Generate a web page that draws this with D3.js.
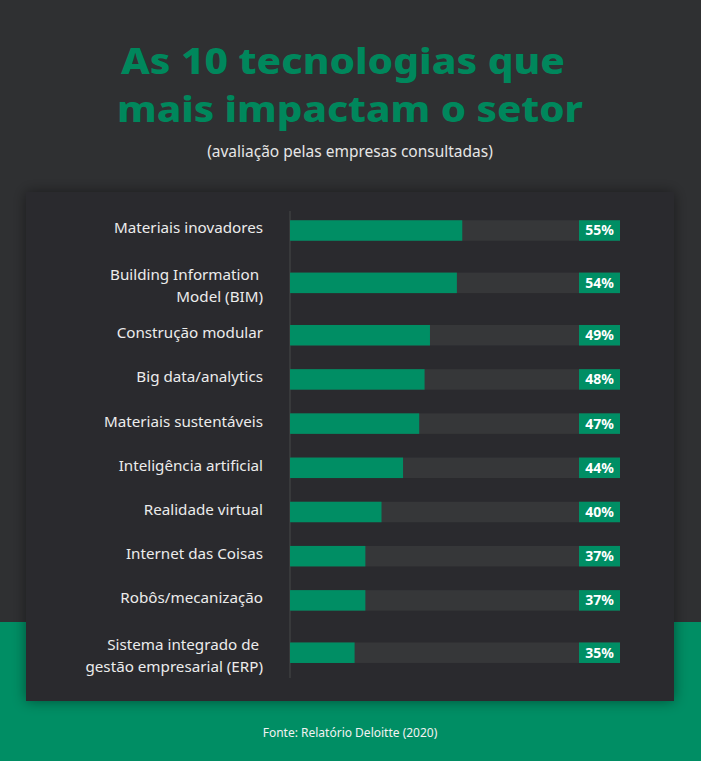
<!DOCTYPE html>
<html><head><meta charset="utf-8">
<script src="https://cdn.jsdelivr.net/npm/d3@7/dist/d3.min.js"></script>
<style>html,body{margin:0;padding:0;background:#2f3032;overflow:hidden} svg{display:block}</style>
</head><body>
<svg id="chart" width="701" height="761"></svg>
<script>
// ---- data ----
const titleLines = ["As 10 tecnologias que", "mais impactam o setor"];
const subtitle = "(avaliação pelas empresas consultadas)";
const source = "Fonte: Relatório Deloitte (2020)";
const categories = [
  "Materiais inovadores",
  "Building Information |Model (BIM)",
  "Construção modular",
  "Big data/analytics",
  "Materiais sustentáveis",
  "Inteligência artificial",
  "Realidade virtual",
  "Internet das Coisas",
  "Robôs/mecanização",
  "Sistema integrado de |gestão empresarial (ERP)"
];
const values = [55, 54, 49, 48, 47, 44, 40, 37, 37, 35];
const valueLabels = ["55%", "54%", "49%", "48%", "47%", "44%", "40%", "37%", "37%", "35%"];

// ---- drawing ----
const W = 701, H = 761;
const FONT = "'Noto Sans', 'Open Sans', sans-serif";
const green = "#008e64", track = "#363739", panel = "#2b2c2e", bg = "#2f3032";
const svg = d3.select("#chart");

const defs = svg.append("defs");
const f = defs.append("filter").attr("id", "sh").attr("x", "-10%").attr("y", "-10%").attr("width", "120%").attr("height", "120%");
f.append("feDropShadow").attr("dx", 0).attr("dy", 0).attr("stdDeviation", 7).attr("flood-color", "#000").attr("flood-opacity", 0.45);

svg.append("rect").attr("width", W).attr("height", H).attr("fill", bg);
svg.append("rect").attr("x", 0).attr("y", 622).attr("width", W).attr("height", H - 622).attr("fill", green);

// title
const titleWidths = [444, 466];
svg.append("g").selectAll("text").data(titleLines).join("text")
  .attr("x", (d, i) => i === 0 ? 343 : 350).attr("y", (d, i) => 74 + i * 47.5)
  .attr("text-anchor", "middle")
  .attr("font-family", FONT).attr("font-weight", 800).attr("font-size", 36)
  .attr("textLength", (d, i) => titleWidths[i]).attr("lengthAdjust", "spacingAndGlyphs")
  .attr("fill", "#00875c").text(d => d);

svg.append("text").attr("x", 350).attr("y", 157).attr("text-anchor", "middle")
  .attr("font-family", FONT).attr("font-size", 15.5).attr("fill", "#e6e6e6").text(subtitle);

// panel
svg.append("rect").attr("x", 26).attr("y", 192).attr("width", 648).attr("height", 509)
  .attr("fill", panel).attr("filter", "url(#sh)");

// layout scales
const lines = categories.map(c => c.split("|"));
const weights = lines.map(l => l.length > 1 ? 1.37 : 1);
const cum = [];
weights.reduce((a, w, i) => { cum[i] = a + w / 2; return a + w; }, 0);
const totalW = d3.sum(weights);
const y = d3.scaleLinear().domain([0, totalW]).range([208.4, 208.4 + totalW * 44.19]);
const x = d3.scaleLinear().domain([23, 84.3]).range([290, 620]);
const barH = 20.5;

// axis line
svg.append("line").attr("x1", x(23)).attr("x2", x(23)).attr("y1", 211).attr("y2", 678)
  .attr("stroke", "#38393b").attr("stroke-width", 2);

const rows = svg.append("g").selectAll("g").data(values).join("g")
  .attr("transform", (d, i) => `translate(0,${y(cum[i])})`);

rows.append("rect").attr("x", x(23)).attr("y", -barH / 2)
  .attr("width", x.range()[1] - x(23)).attr("height", barH).attr("fill", track);
rows.append("rect").attr("x", x(23)).attr("y", -barH / 2)
  .attr("width", d => x(d) - x(23)).attr("height", barH).attr("fill", green);
rows.append("rect").attr("x", x.range()[1] - 41).attr("y", -barH / 2)
  .attr("width", 41).attr("height", barH).attr("fill", green);
rows.append("text").attr("x", x.range()[1] - 20.5).attr("y", 5)
  .attr("text-anchor", "middle").attr("font-family", FONT).attr("font-weight", 700)
  .attr("font-size", 14).attr("fill", "#fff").text((d, i) => valueLabels[i]);

rows.append("text").attr("x", 263).attr("text-anchor", "end")
  .attr("font-family", FONT).attr("font-size", 15.2).attr("fill", "#ececec")
  .style("white-space", "pre")
  .each(function (d, i) {
    const l = lines[i];
    const t = d3.select(this);
    const y0 = l.length > 1 ? -3 : 3;
    l.forEach((s, j) => t.append("tspan").attr("x", 263).attr("y", y0 + j * 22.5).text(s));
  });

svg.append("text").attr("x", 350).attr("y", 737).attr("text-anchor", "middle")
  .attr("font-family", FONT).attr("font-size", 12).attr("fill", "#f2f2f2").text(source);
</script>
</body></html>
